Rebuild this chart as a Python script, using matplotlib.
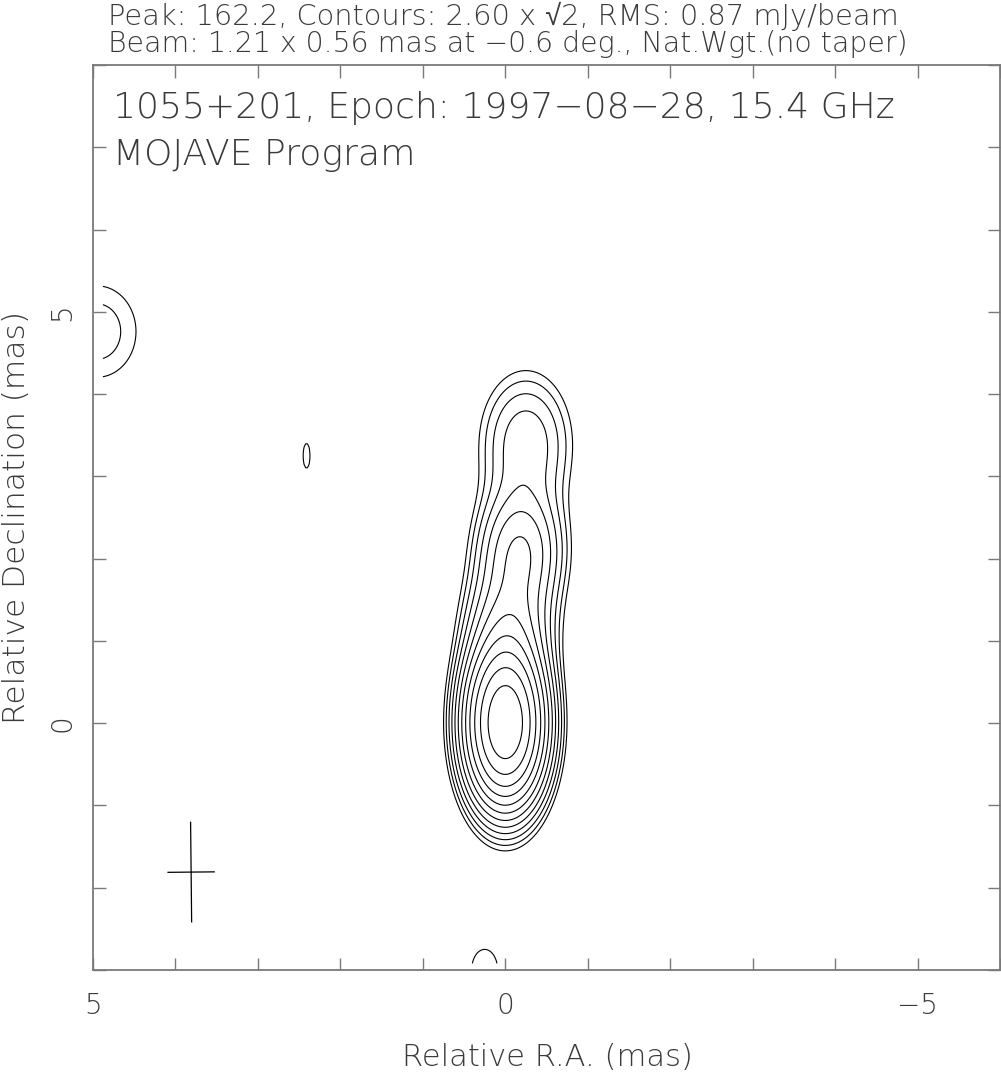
#!/usr/bin/env python3

import numpy as np
import matplotlib
matplotlib.use("Agg")
from matplotlib import pyplot as plt
from matplotlib.ticker import MultipleLocator


# Gaussian components of the clean map.
# RA / Dec offsets (mas), peak (mJy/beam), sigma along RA / Dec (mas)
comp_ra = [0.0, -0.05, -0.18, -0.25, 4.95, 2.41, 0.25]
comp_dec = [0.0, 1.2, 2.1, 3.4, 4.76, 3.25, -3.0]
comp_peak = [161.7, 18.0, 20.0, 9.5, 4.5, 2.72, 3.36]
comp_sra = [0.26, 0.30, 0.30, 0.35, 0.45, 0.14, 0.22]
comp_sdec = [0.54, 0.45, 0.45, 0.55, 0.53, 0.50, 0.35]

# map extent actually covered by the image (mas)
map_ra = (-6.0, 4.9)
map_dec = (-2.92, 8.0)

peak = 162.2
base_level = 2.60
rms = 0.87
beam_maj, beam_min, beam_pa = 1.21, 0.56, -0.6
beam_pos = (3.81, -1.81)

source = "1055+201"
epoch = "1997\u221208\u221228"
freq = "15.4 GHz"

GREY = "#7a7a7a"
TXT = "#3a3a3a"
FONT = ["DejaVu Sans", "Liberation Sans"]


def model_map(ra, dec):
    img = np.zeros_like(ra)
    for x0, y0, p, sx, sy in zip(comp_ra, comp_dec, comp_peak, comp_sra, comp_sdec):
        img += p * np.exp(-((ra - x0) ** 2) / (2 * sx ** 2) - ((dec - y0) ** 2) / (2 * sy ** 2))
    return img


def main():
    ra = np.arange(map_ra[0], map_ra[1], 0.02)
    dec = np.arange(map_dec[0], map_dec[1], 0.02)
    RA, DEC = np.meshgrid(ra, dec)
    img = model_map(RA, DEC)

    levels = [base_level]
    while levels[-1] * np.sqrt(2) < peak:
        levels.append(levels[-1] * np.sqrt(2))

    fig = plt.figure(figsize=(10.01, 10.79), dpi=100)
    ax = fig.add_axes([93 / 1001, 1 - 970 / 1079, 907 / 1001, 905 / 1079])

    ax.contour(RA, DEC, img, levels=levels, colors="black", linewidths=0.8)

    # beam cross
    pa = np.deg2rad(beam_pa)
    bx, by = beam_pos
    dmaj = np.array([-np.sin(pa), np.cos(pa)]) * beam_maj / 2
    dmin = np.array([np.cos(pa), np.sin(pa)]) * beam_min / 2
    ax.plot([bx - dmaj[0], bx + dmaj[0]], [by - dmaj[1], by + dmaj[1]], color="black", lw=0.9)
    ax.plot([bx - dmin[0], bx + dmin[0]], [by - dmin[1], by + dmin[1]], color="black", lw=0.9)

    ax.set_xlim(5, -6)
    ax.set_ylim(-3, 8)
    ax.set_xticks([5, 0, -5])
    ax.set_yticks([0, 5])
    ax.set_xticklabels(["5", "0", "\u22125"])
    ax.xaxis.set_minor_locator(MultipleLocator(1))
    ax.yaxis.set_minor_locator(MultipleLocator(1))
    ax.tick_params(which="both", direction="in", top=True, right=True,
                   length=9, width=1.0, color=GREY)
    ax.tick_params(axis="x", pad=16, labelsize=20, labelcolor=TXT)
    ax.tick_params(axis="y", pad=12, labelsize=20, labelcolor=TXT, labelrotation=90)
    for lab in ax.get_yticklabels():
        lab.set_va("center")
    for lab in ax.get_xticklabels() + ax.get_yticklabels():
        lab.set_fontfamily(FONT)
        lab.set_fontweight("light")
    for s in ax.spines.values():
        s.set_color(GREY)
        s.set_linewidth(1.3)

    fig.text(547 / 1001, 1 - 1058 / 1079, "Relative R.A. (mas)", ha="center", va="center",
             fontsize=22, color=TXT, family=FONT, weight="light")
    fig.text(17 / 1001, 1 - 517 / 1079, "Relative Declination (mas)", ha="center", va="center",
             rotation=90, fontsize=22.5, color=TXT, family=FONT, weight="light")

    fig.text(108 / 1001, 1 - 16 / 1079,
             f"Peak: {peak:.1f}, Contours: {base_level:.2f} x \u221a2, RMS: {rms:.2f} mJy/beam",
             ha="left", va="center", fontsize=20.8, color=TXT, family=FONT, weight="light")
    fig.text(108 / 1001, 1 - 44 / 1079,
             f"Beam: {beam_maj:.2f} x {beam_min:.2f} mas at \u2212{abs(beam_pa):.1f} deg., Nat.Wgt.(no taper)",
             ha="left", va="center", fontsize=20.4, color=TXT, family=FONT, weight="light")

    ax.text(0.022, (970 - 108) / 905, f"{source}, Epoch: {epoch}, {freq}", transform=ax.transAxes,
            ha="left", va="center", fontsize=26, color=TXT, family=FONT, weight="light")
    ax.text(0.022, (970 - 155) / 905, "MOJAVE Program", transform=ax.transAxes,
            ha="left", va="center", fontsize=26, color=TXT, family=FONT, weight="light")

    fig.savefig("out.png", dpi=100)


if __name__ == "__main__":
    main()
